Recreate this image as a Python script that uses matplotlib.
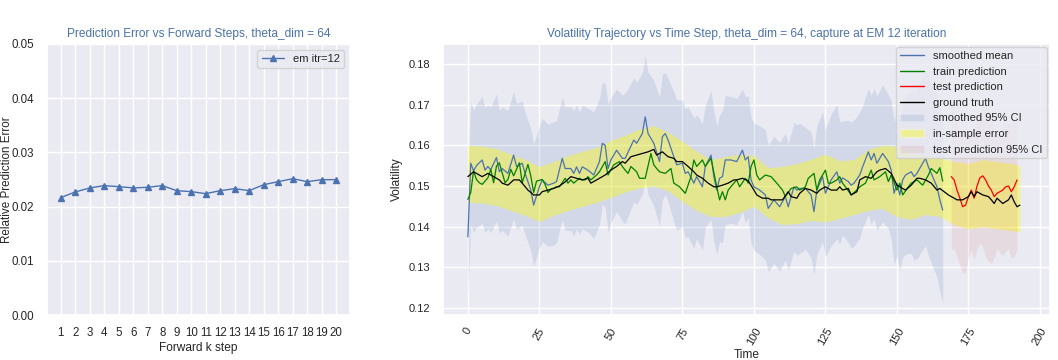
import matplotlib
matplotlib.use("Agg")
import matplotlib.pyplot as plt
import seaborn as sns
import numpy as np
from matplotlib.lines import Line2D
from matplotlib.patches import Patch

# ---- left panel: prediction error vs forward steps
k_steps = list(range(1, 21))
pred_err = [0.02166, 0.0227, 0.02344, 0.02387, 0.02368, 0.02344, 0.02356, 0.02387, 0.02294, 0.02276,
            0.02239, 0.02294, 0.02331, 0.02294, 0.02405, 0.0246, 0.02515, 0.0246, 0.02497, 0.02497]

# ---- right panel: volatility trajectory
sm_t = [0, 1, 2, 3, 5, 6, 7, 8, 10, 11, 12, 14, 16, 17, 19, 20, 22, 23, 25, 26, 28, 30, 31, 33, 34,
        36, 37, 38, 39, 40, 42, 44, 46, 47, 48, 49, 50, 52, 54, 55, 58, 59, 61, 62, 63, 65, 67, 68, 69,
        70, 72, 73, 75, 76, 77, 79, 80, 82, 83, 85, 86, 87, 88, 89, 90, 92, 94, 96, 97, 98, 99, 100,
        102, 104, 105, 107, 109, 111, 112, 114, 115, 116, 118, 120, 121, 122, 124, 125, 127, 129, 130,
        131, 133, 134, 135, 137, 138, 140, 141, 142, 143, 145, 147, 148, 149, 150, 151, 152, 153, 155,
        156, 157, 159, 160, 161, 162, 164, 165, 166]
sm_mean = [0.1375, 0.1556, 0.1537, 0.1550, 0.1564, 0.1539, 0.1548, 0.1540, 0.1570, 0.1535, 0.1543,
           0.1531, 0.1576, 0.1548, 0.1556, 0.1531, 0.1490, 0.1453, 0.1498, 0.1515, 0.1502, 0.1507,
           0.1511, 0.1568, 0.1543, 0.1543, 0.1531, 0.1547, 0.1531, 0.1547, 0.1539, 0.1527, 0.1560,
           0.1605, 0.1600, 0.1543, 0.1564, 0.1588, 0.1568, 0.1568, 0.1613, 0.1605, 0.1629, 0.1670,
           0.1629, 0.1605, 0.1560, 0.1621, 0.1629, 0.1613, 0.1572, 0.1552, 0.1556, 0.1531, 0.1535,
           0.1507, 0.1523, 0.1498, 0.1548, 0.1576, 0.1523, 0.1490, 0.1519, 0.1523, 0.1564, 0.1564,
           0.1560, 0.1588, 0.1564, 0.1572, 0.1515, 0.1498, 0.1490, 0.1478, 0.1445, 0.1466, 0.1449,
           0.1474, 0.1449, 0.1498, 0.1490, 0.1494, 0.1494, 0.1478, 0.1437, 0.1490, 0.1523, 0.1482,
           0.1515, 0.1535, 0.1507, 0.1520, 0.1511, 0.1502, 0.1507, 0.1527, 0.1547, 0.1584, 0.1564,
           0.1580, 0.1556, 0.1580, 0.1560, 0.1539, 0.1482, 0.1507, 0.1478, 0.1515, 0.1527, 0.1535,
           0.1523, 0.1531, 0.1556, 0.1568, 0.1547, 0.1531, 0.1498, 0.1466, 0.1441]
sm_ci_half = [0.0150, 0.0152, 0.0150, 0.0152, 0.0156, 0.0154, 0.0152, 0.0155, 0.0156, 0.0150,
              0.0152, 0.0154, 0.0157, 0.0155, 0.0153, 0.0150, 0.0150, 0.0150, 0.0150, 0.0152,
              0.0150, 0.0152, 0.0150, 0.0150, 0.0152, 0.0152, 0.0154, 0.0152, 0.0150, 0.0152,
              0.0152, 0.0155, 0.0155, 0.0150, 0.0152, 0.0158, 0.0154, 0.0150, 0.0155, 0.0160,
              0.0152, 0.0150, 0.0150, 0.0150, 0.0150, 0.0155, 0.0158, 0.0155, 0.0150, 0.0152,
              0.0160, 0.0160, 0.0156, 0.0158, 0.0160, 0.0160, 0.0152, 0.0156, 0.0150, 0.0158,
              0.0160, 0.0158, 0.0156, 0.0162, 0.0158, 0.0156, 0.0155, 0.0150, 0.0155, 0.0150,
              0.0155, 0.0156, 0.0158, 0.0160, 0.0155, 0.0156, 0.0158, 0.0156, 0.0155, 0.0158,
              0.0160, 0.0160, 0.0150, 0.0155, 0.0155, 0.0158, 0.0160, 0.0156, 0.0162, 0.0165,
              0.0150, 0.0140, 0.0150, 0.0155, 0.0155, 0.0155, 0.0150, 0.0155, 0.0158, 0.0160,
              0.0165, 0.0168, 0.0165, 0.0170, 0.0175, 0.0180, 0.0185, 0.0190, 0.0195, 0.0200,
              0.0205, 0.0210, 0.0212, 0.0215, 0.0218, 0.0220, 0.0222, 0.0225, 0.0228]

tr_t = [0, 1, 2, 3, 4, 5, 7, 8, 9, 10, 11, 13, 14, 15, 16, 18, 19, 21, 22, 23, 24, 26, 27, 28, 29,
        31, 32, 34, 35, 36, 37, 39, 40, 41, 42, 43, 45, 46, 48, 49, 50, 51, 53, 54, 55, 56, 57, 59,
        60, 62, 64, 65, 66, 67, 69, 71, 72, 74, 76, 78, 79, 80, 82, 83, 85, 87, 88, 89, 90, 91, 93,
        94, 95, 97, 98, 99, 100, 101, 102, 104, 106, 108, 110, 111, 113, 115, 116, 118, 119, 121,
        122, 123, 125, 126, 127, 129, 130, 131, 132, 134, 136, 137, 139, 141, 142, 144, 146, 147,
        148, 150, 151, 152, 154, 155, 157, 159, 161, 162, 164, 165, 166]
tr_pred = [0.1467, 0.1484, 0.1537, 0.1516, 0.1508, 0.1504, 0.1520, 0.1541, 0.1508, 0.1549, 0.1557,
           0.1508, 0.1516, 0.1541, 0.1525, 0.1557, 0.1508, 0.1553, 0.1525, 0.1484, 0.1512, 0.1516,
           0.1504, 0.1484, 0.1492, 0.1498, 0.1498, 0.1519, 0.1507, 0.1515, 0.1507, 0.1519, 0.1515,
           0.1515, 0.1523, 0.1515, 0.1527, 0.1535, 0.1560, 0.1527, 0.1540, 0.1552, 0.1560, 0.1548,
           0.1539, 0.1531, 0.1548, 0.1535, 0.1519, 0.1519, 0.1580, 0.1552, 0.1543, 0.1535, 0.1531,
           0.1543, 0.1507, 0.1498, 0.1482, 0.1523, 0.1564, 0.1548, 0.1564, 0.1548, 0.1568, 0.1498,
           0.1466, 0.1486, 0.1466, 0.1490, 0.1507, 0.1515, 0.1498, 0.1519, 0.1507, 0.1548, 0.1564,
           0.1527, 0.1515, 0.1527, 0.1523, 0.1507, 0.1490, 0.1474, 0.1494, 0.1498, 0.1490, 0.1498,
           0.1519, 0.1531, 0.1490, 0.1515, 0.1539, 0.1507, 0.1507, 0.1515, 0.1523, 0.1507, 0.1498,
           0.1478, 0.1490, 0.1498, 0.1507, 0.1539, 0.1515, 0.1523, 0.1535, 0.1511, 0.1527, 0.1490,
           0.1507, 0.1478, 0.1498, 0.1507, 0.1515, 0.1502, 0.1527, 0.1543, 0.1531, 0.1545, 0.1512]

te_t = list(range(169, 193))
te_pred = [0.1523, 0.1515, 0.1490, 0.1470, 0.1449, 0.1453, 0.1474, 0.1490, 0.1470, 0.1500, 0.1520,
           0.1525, 0.1515, 0.1500, 0.1490, 0.1474, 0.1482, 0.1486, 0.1490, 0.1498, 0.1500, 0.1486,
           0.1498, 0.1515]
te_ci_half = [0.0180, 0.0170, 0.0164, 0.0164, 0.0164, 0.0164, 0.0150, 0.0147, 0.0150, 0.0154,
              0.0160, 0.0175, 0.0190, 0.0185, 0.0180, 0.0150, 0.0135, 0.0150, 0.0160, 0.0158,
              0.0155, 0.0165, 0.0170, 0.0172]

gt_t = [0, 2, 4, 5, 7, 9, 11, 12, 14, 16, 18, 19, 21, 23, 25, 26, 28, 30, 32, 34, 36, 38, 40, 42, 43,
        45, 47, 48, 50, 52, 54, 55, 57, 59, 61, 63, 65, 66, 68, 70, 72, 73, 75, 77, 79, 80, 82, 84, 86,
        87, 89, 91, 93, 94, 96, 98, 100, 101, 103, 105, 106, 108, 110, 112, 113, 115, 116, 118, 120,
        122, 123, 125, 127, 129, 130, 131, 133, 134, 136, 137, 139, 141, 143, 144, 146, 148, 150, 151,
        153, 155, 157, 158, 160, 162, 164, 165, 168, 169, 171, 173, 175, 176, 177, 178, 180, 182, 183,
        184, 185, 187, 189, 190, 191, 192, 193]
gt_vol = [0.1523, 0.1535, 0.1527, 0.1523, 0.1531, 0.1523, 0.1515, 0.1507, 0.1502, 0.1515, 0.1515,
          0.1507, 0.1490, 0.1478, 0.1478, 0.1486, 0.1490, 0.1494, 0.1500, 0.1510, 0.1523, 0.1519,
          0.1515, 0.1519, 0.1507, 0.1515, 0.1523, 0.1527, 0.1539, 0.1548, 0.1560, 0.1556, 0.1572,
          0.1576, 0.1580, 0.1584, 0.1590, 0.1576, 0.1584, 0.1572, 0.1568, 0.1560, 0.1560, 0.1548,
          0.1535, 0.1527, 0.1519, 0.1507, 0.1498, 0.1498, 0.1502, 0.1507, 0.1515, 0.1515, 0.1519,
          0.1513, 0.1490, 0.1478, 0.1470, 0.1470, 0.1466, 0.1466, 0.1466, 0.1486, 0.1474, 0.1470,
          0.1482, 0.1494, 0.1490, 0.1482, 0.1490, 0.1498, 0.1490, 0.1490, 0.1498, 0.1490, 0.1494,
          0.1478, 0.1486, 0.1515, 0.1523, 0.1519, 0.1535, 0.1539, 0.1543, 0.1531, 0.1502, 0.1498,
          0.1490, 0.1502, 0.1519, 0.1519, 0.1515, 0.1507, 0.1490, 0.1494, 0.1478, 0.1474, 0.1466,
          0.1466, 0.1474, 0.1486, 0.1474, 0.1486, 0.1478, 0.1474, 0.1466, 0.1457, 0.1470, 0.1457,
          0.1466, 0.1478, 0.1461, 0.1449, 0.1453]

ins_t = [0, 5, 10, 15, 20, 25, 30, 35, 40, 45, 50, 55, 60, 65, 70, 75, 80, 85, 90, 95, 100, 105, 110,
         115, 120, 125, 130, 135, 140, 145, 150, 155, 160, 165, 170, 175, 180, 185, 190, 193]
ins_upper = [0.1600, 0.1598, 0.1592, 0.1578, 0.1565, 0.1548, 0.1560, 0.1575, 0.1585, 0.1595, 0.1612,
             0.1625, 0.1640, 0.1648, 0.1632, 0.1610, 0.1585, 0.1565, 0.1572, 0.1578, 0.1575, 0.1545,
             0.1548, 0.1555, 0.1566, 0.1578, 0.1562, 0.1565, 0.1590, 0.1600, 0.1598, 0.1580, 0.1575,
             0.1570, 0.1560, 0.1555, 0.1565, 0.1560, 0.1555, 0.1550]
ins_lower = [0.1460, 0.1458, 0.1452, 0.1440, 0.1428, 0.1413, 0.1428, 0.1440, 0.1450, 0.1460, 0.1472,
             0.1485, 0.1495, 0.1500, 0.1488, 0.1462, 0.1440, 0.1425, 0.1425, 0.1435, 0.1450, 0.1422,
             0.1405, 0.1408, 0.1415, 0.1412, 0.1420, 0.1430, 0.1440, 0.1445, 0.1425, 0.1418, 0.1430,
             0.1425, 0.1405, 0.1395, 0.1400, 0.1395, 0.1390, 0.1388]


sns.set_theme(style="darkgrid")
plt.rcParams['font.family'] = ['Liberation Sans', 'DejaVu Sans']
plt.rcParams['font.size'] = 8
title_color = '#4a72a8'

fig = plt.figure(figsize=(10.58, 3.6), dpi=100)
ax1 = fig.add_axes([0.0444, 0.125, 0.2864, 0.7528])
ax2 = fig.add_axes([0.4187, 0.125, 0.5737, 0.7528])

# left
ax1.plot(k_steps, pred_err, marker='^', color='#4C72B0', linewidth=1, markersize=5, label='em itr=12')
ax1.set_ylim(0, 0.05)
ax1.set_xticks(k_steps)
ax1.set_yticks([0, 0.01, 0.02, 0.03, 0.04, 0.05])
ax1.set_yticklabels(['0.00', '0.01', '0.02', '0.03', '0.04', '0.05'])
ax1.tick_params(labelsize=8.3, pad=3)
ax1.set_xlabel('Forward k step', fontsize=8.6, labelpad=2)
ax1.set_ylabel('Relative Prediction Error', fontsize=8.4)
# label hugs the left edge of the figure, as in the original
ax1.yaxis.set_label_coords(-0.112, 0.5)
ax1.set_title('Prediction Error vs Forward Steps, theta_dim = 64', fontsize=8.6, color=title_color, pad=5)
ax1.legend(loc='upper right', fontsize=8)

# right
sm_mean_a = np.array(sm_mean)
sm_half_a = np.array(sm_ci_half)
te_pred_a = np.array(te_pred)
te_half_a = np.array(te_ci_half)

ax2.fill_between(sm_t, sm_mean_a - sm_half_a, sm_mean_a + sm_half_a, color='#4C72B0', alpha=0.15, linewidth=0)
ax2.fill_between(ins_t, ins_lower, ins_upper, color='yellow', alpha=0.38, linewidth=0)
ax2.fill_between(te_t, te_pred_a - te_half_a, te_pred_a + te_half_a, color='#C44E52', alpha=0.1, linewidth=0)
ax2.plot(sm_t, sm_mean, color='#4C72B0', linewidth=0.9)
ax2.plot(tr_t, tr_pred, color='green', linewidth=0.9)
ax2.plot(te_t, te_pred, color='red', linewidth=0.9)
ax2.plot(gt_t, gt_vol, color='black', linewidth=0.9)

ax2.set_xlim(-8.7, 203.5)
ax2.set_ylim(0.1183, 0.1849)
ax2.set_xticks(range(0, 201, 25))
ax2.set_yticks([0.12, 0.13, 0.14, 0.15, 0.16, 0.17, 0.18])
ax2.set_yticklabels(['0.12', '0.13', '0.14', '0.15', '0.16', '0.17', '0.18'])
ax2.tick_params(axis='x', labelrotation=60, labelsize=8, pad=2)
ax2.tick_params(axis='y', labelsize=8)
ax2.set_xlabel('Time', fontsize=8.6, labelpad=1)
ax2.set_ylabel('Volatility', fontsize=8.6)
ax2.set_title('Volatility Trajectory vs Time Step, theta_dim = 64, capture at EM 12 iteration',
              fontsize=8.6, color=title_color, pad=5)

handles = [Line2D([], [], color='#4C72B0', linewidth=1),
           Line2D([], [], color='green', linewidth=1),
           Line2D([], [], color='red', linewidth=1),
           Line2D([], [], color='black', linewidth=1),
           Patch(facecolor='#4C72B0', alpha=0.15),
           Patch(facecolor='yellow', alpha=0.38),
           Patch(facecolor='#C44E52', alpha=0.1)]
labels = ['smoothed mean', 'train prediction', 'test prediction', 'ground truth',
          'smoothed 95% CI', 'in-sample error', 'test prediction 95% CI']
ax2.legend(handles, labels, loc='upper right', fontsize=8, borderaxespad=0.3,
           labelspacing=0.5, handlelength=2.2, borderpad=0.35)

fig.savefig('out.png', dpi=100)
